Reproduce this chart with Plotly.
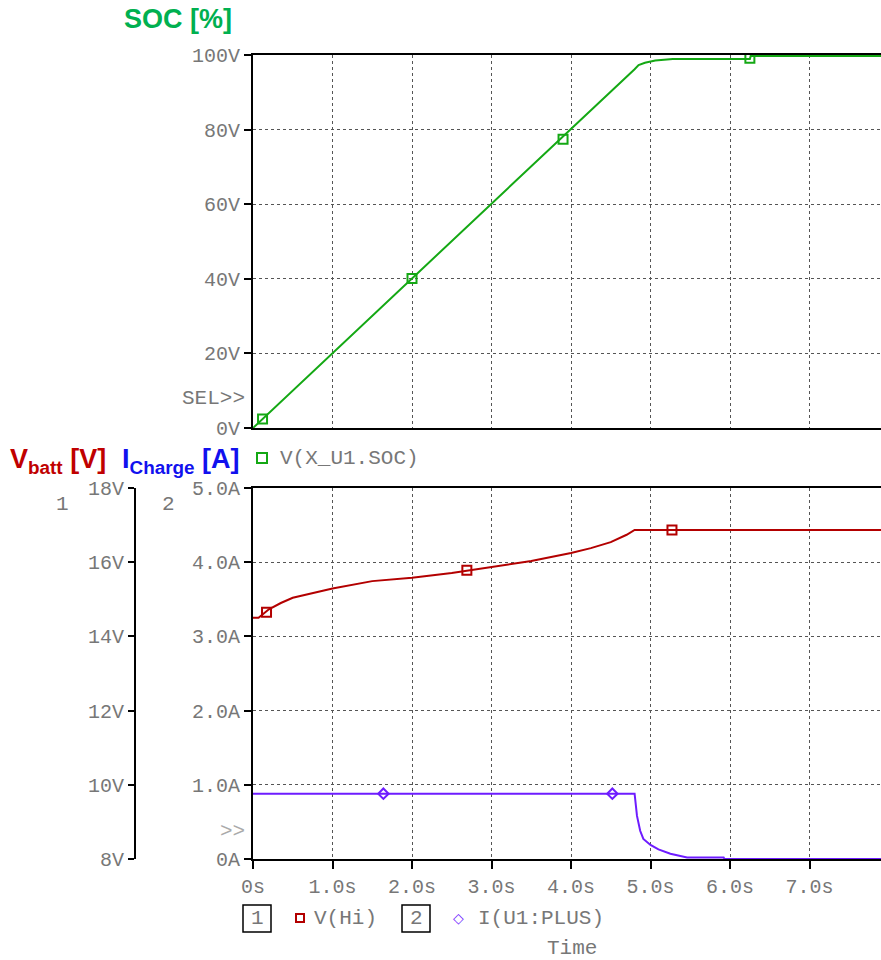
import plotly.graph_objects as go

# ---------------- data ----------------
soc_t = [0, 1.0, 2.0, 3.0, 4.0, 4.75, 4.8, 4.85, 4.93, 5.06, 5.2, 5.28, 6.25, 6.26, 7.9]
soc_v = [0, 20, 40.1, 60.1, 80.1, 95.1, 96.2, 97.3, 97.9, 98.5, 98.8, 98.9, 98.9, 99.7, 99.7]
soc_mk_t = [0.12, 2.0, 3.9, 6.25]
soc_mk_v = [2.4, 40.1, 77.4, 99.1]

vhi_t = [0, 0.07, 0.2, 0.35, 0.5, 0.75, 1.0, 1.5, 2.0, 2.5, 3.0, 3.5, 4.0, 4.25, 4.5, 4.7, 4.8, 7.9]
vhi_v = [14.5, 14.5, 14.73, 14.9, 15.04, 15.17, 15.29, 15.49, 15.58, 15.71, 15.87, 16.03, 16.25,
         16.38, 16.54, 16.74, 16.87, 16.87]
vhi_mk_t = [0.17, 2.69, 5.27]
vhi_mk_v = [14.65, 15.78, 16.87]

ich_t = [0, 4.8, 4.83, 4.87, 4.91, 5.0, 5.1, 5.25, 5.46, 5.92, 5.93, 7.9]
ich_v = [0.88, 0.88, 0.58, 0.38, 0.27, 0.19, 0.13, 0.07, 0.02, 0.02, 0.0, 0.0]
ich_mk_t = [1.64, 4.52]
ich_mk_v = [0.88, 0.88]

x_ticks = [0, 1, 2, 3, 4, 5, 6, 7]
x_labels = ["0s", "1.0s", "2.0s", "3.0s", "4.0s", "5.0s", "6.0s", "7.0s"]
soc_ticks = [0, 20, 40, 60, 80, 100]
soc_labels = ["0V", "20V", "40V", "60V", "80V", "100V"]
i_ticks = [0, 1, 2, 3, 4, 5]
i_labels = ["0A", "1.0A", "2.0A", "3.0A", "4.0A", "5.0A"]
v_ticks = [8, 10, 12, 14, 16, 18]
v_labels = ["8V", "10V", "12V", "14V", "16V", "18V"]

# ---------------- styling ----------------
W, H = 881, 960
MT, MB = 55, 101
PH = H - MT - MB


def px_x(p):
    return p / W


def px_y(p):
    return (H - MB - p) / PH


GREEN = "#14a814"
RED = "#b30000"
VIOLET = "#6e1cff"
TICKF = dict(family="Liberation Mono", size=20, color="#777777")
GRID = dict(showgrid=True, gridcolor="#555555", griddash="dot", gridwidth=1)

fig = go.Figure()

fig.add_trace(go.Scatter(x=soc_t, y=soc_v, mode="lines", line=dict(color=GREEN, width=2),
                         xaxis="x2", yaxis="y", showlegend=False))
fig.add_trace(go.Scatter(x=soc_mk_t, y=soc_mk_v, mode="markers",
                         marker=dict(symbol="square-open", size=9, color=GREEN, line=dict(width=2)),
                         xaxis="x2", yaxis="y", showlegend=False))

fig.add_trace(go.Scatter(x=vhi_t, y=vhi_v, mode="lines", line=dict(color=RED, width=2),
                         xaxis="x", yaxis="y3", showlegend=False))
fig.add_trace(go.Scatter(x=vhi_mk_t, y=vhi_mk_v, mode="markers",
                         marker=dict(symbol="square-open", size=9, color=RED, line=dict(width=2)),
                         xaxis="x", yaxis="y3", showlegend=False))

fig.add_trace(go.Scatter(x=ich_t, y=ich_v, mode="lines", line=dict(color=VIOLET, width=2),
                         xaxis="x", yaxis="y2", showlegend=False))
fig.add_trace(go.Scatter(x=ich_mk_t, y=ich_mk_v, mode="markers",
                         marker=dict(symbol="diamond-open", size=8, color=VIOLET, line=dict(width=2)),
                         xaxis="x", yaxis="y2", showlegend=False))

xdom = [px_x(253), 1]
xr = [0, (W - 253) / 79.5]

axis_common = dict(showline=True, linecolor="black", linewidth=2, zeroline=False, automargin=False,
                   ticks="outside", tickcolor="black", tickwidth=2, tickfont=TICKF)

layout = dict(
    width=W, height=H,
    margin=dict(l=0, r=0, t=MT, b=MB, autoexpand=False),
    paper_bgcolor="white", plot_bgcolor="white",
    showlegend=False,
    xaxis=dict(domain=xdom, range=xr, anchor="y2", tickvals=x_ticks, ticktext=x_labels,
               mirror=True, ticklen=8, **GRID, **axis_common),
    xaxis2=dict(domain=xdom, range=xr, anchor="y", tickvals=x_ticks, showticklabels=False,
                mirror=True, ticklen=0, **GRID,
                **{k: v for k, v in axis_common.items() if k not in ("ticks",)}),
    yaxis=dict(domain=[px_y(428), 1], range=[0, 100], anchor="x2", tickvals=soc_ticks,
               ticktext=soc_labels, ticklen=7, **GRID, **axis_common),
    yaxis2=dict(domain=[0, px_y(488)], range=[0, 5], anchor="x", tickvals=i_ticks,
                ticktext=i_labels, ticklen=7, **GRID, **axis_common),
    yaxis3=dict(range=[8, 18], overlaying="y2", anchor="free", position=px_x(135), side="left",
                tickvals=v_ticks, ticktext=v_labels, ticklen=6, showgrid=False, **axis_common),
)
fig.update_layout(**layout)

ann = []


def txt(x, y, s, font, xanchor="left", yanchor="middle"):
    ann.append(dict(x=px_x(x), y=px_y(y), xref="paper", yref="paper", text=s, showarrow=False,
                    xanchor=xanchor, yanchor=yanchor, font=font))


BOLD = "Liberation Sans"
txt(122, 19, "<b>SOC [%]</b>", dict(family=BOLD, size=27, color="#00b050"))
txt(8, 461, "<b>V<sub>batt</sub> [V]</b>", dict(family=BOLD, size=27, color="#c00000"))
txt(120, 461, "<b>I<sub>Charge</sub> [A]</b>", dict(family=BOLD, size=27, color="#1111ee"))

LEG = dict(family="Liberation Mono", size=21, color="#777777")
txt(278, 458, "V(X_U1.SOC)", LEG)
txt(247, 398, "SEL>>", LEG, xanchor="right")
txt(247, 831, ">>", dict(family="Liberation Mono", size=21, color="#aaaaaa"), xanchor="right")
txt(62, 505, "1", LEG, xanchor="center")
txt(168, 505, "2", LEG, xanchor="center")
txt(257, 918, "1", LEG, xanchor="center")
txt(312, 918, "V(Hi)", LEG)
txt(416, 918, "2", LEG, xanchor="center")
txt(476, 918, "I(U1:PLUS)", LEG)
txt(572, 948, "Time", LEG, xanchor="center")

# diamond legend marker via text glyph
ann.append(dict(x=px_x(458), y=px_y(918), xref="paper", yref="paper", text="◇", showarrow=False,
                xanchor="center", yanchor="middle",
                font=dict(family="DejaVu Sans", size=14, color=VIOLET)))
fig.update_layout(annotations=ann)

shapes = []


def rect(x0, y0, x1, y1, color, width):
    shapes.append(dict(type="rect", xref="paper", yref="paper", x0=px_x(x0), x1=px_x(x1),
                       y0=px_y(y1), y1=px_y(y0), line=dict(color=color, width=width)))


rect(257, 453, 267, 463, GREEN, 2)
rect(243, 905, 271, 932, "black", 1.5)
rect(402, 905, 430, 932, "black", 1.5)
rect(296, 914, 304, 922, RED, 2)
fig.update_layout(shapes=shapes)

fig.write_html("out.html")
